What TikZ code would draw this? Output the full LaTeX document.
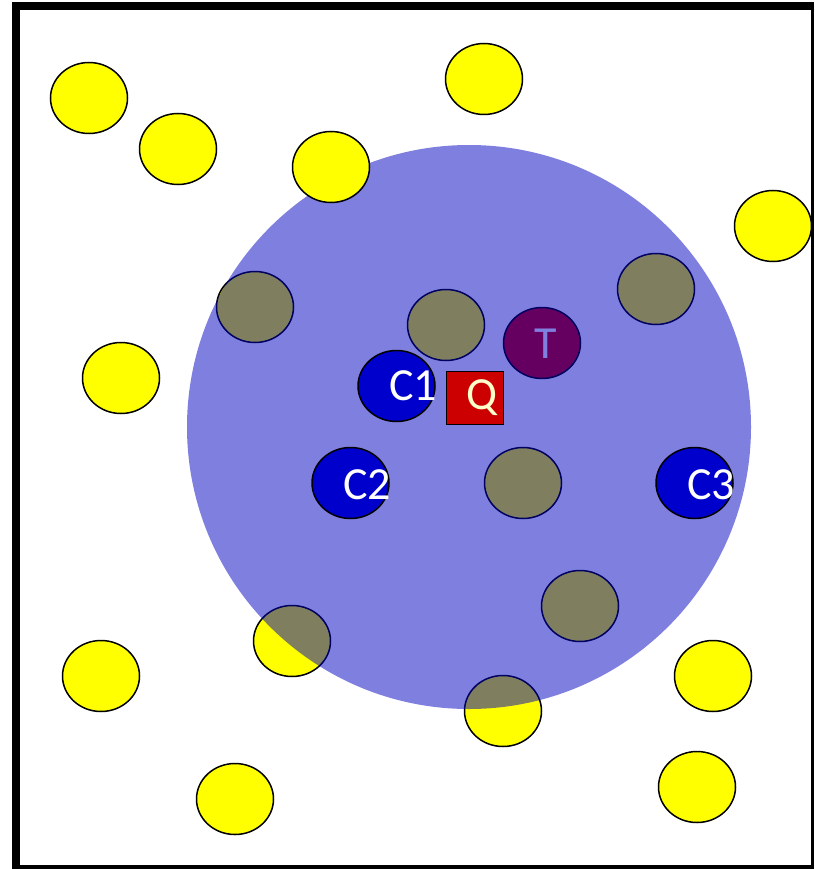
\documentclass[tikz,border=0pt]{standalone}
\usepackage{fontspec}
\setmainfont{Carlito}
\usetikzlibrary{shapes.geometric}
\definecolor{yel}{RGB}{255,255,0}
\definecolor{cblue}{RGB}{0,0,204}
\definecolor{cred}{RGB}{204,0,0}
\definecolor{zone}{RGB}{0,0,192}
\definecolor{qtext}{RGB}{255,255,204}
\tikzset{
  dot/.style={ellipse, draw=black, line width=1.5pt, minimum width=77pt, minimum height=71pt, inner sep=0pt},
  ydot/.style={dot, fill=yel},
  cdot/.style={dot, fill=cblue},
  tdot/.style={dot, fill=cred},
  lbl/.style={font=\fontsize{46}{50}\selectfont, inner sep=0pt},
}
\begin{document}
\begin{tikzpicture}[x=1pt,y=-1pt]
\useasboundingbox (0,0) rectangle (814,869);
% frame
\fill[black] (12,2) rectangle (814,869);
\fill[white] (20,10) rectangle (811,865);
% yellow dots
\node[ydot] (y1) at (89,98) {};
\node[ydot] (y2) at (178,149) {};
\node[ydot] (y4) at (484,79) {};
\node[ydot] (y5) at (773,226) {};
\node[ydot] (y6) at (121,378) {};
\node[ydot] (y7) at (101,676) {};
\node[ydot] (y8) at (292,641) {};
\node[ydot] (y9) at (503,711) {};
\node[ydot] (y10) at (235,799) {};
\node[ydot] (y11) at (713,676) {};
\node[ydot] (y12) at (697,787) {};
\node[ydot] (g1) at (255,307) {};
\node[ydot] (g2) at (446,325) {};
\node[ydot] (g3) at (656,289) {};
\node[ydot] (g4) at (523,483) {};
\node[ydot] (g5) at (580,606) {};
% target
\node[tdot] (t) at (542,343) {};
\node[lbl, white] (tl) at (546,344) {T};
% zone
\fill[zone, opacity=0.5] (469,427) circle[radius=282];
% yellow dot above the zone
\node[ydot] (y3) at (331,167) {};
% blue dots
\node[cdot] (c1) at (396.5,386) {};
\node[lbl, white] (c1l) at (413,386) {C1};
\node[cdot] (c2) at (350.5,483) {};
\node[lbl, white] (c2l) at (367,485) {C2};
\node[cdot] (c3) at (694.5,483) {};
\node[lbl, white] (c3l) at (711,485) {C3};
% query
\node[draw=black, line width=1.5pt, fill=cred, minimum width=57pt, minimum height=53pt, inner sep=0pt] (q) at (475,398) {};
\node[lbl, text=qtext] (ql) at (482,398) {Q};
\end{tikzpicture}
\end{document}
